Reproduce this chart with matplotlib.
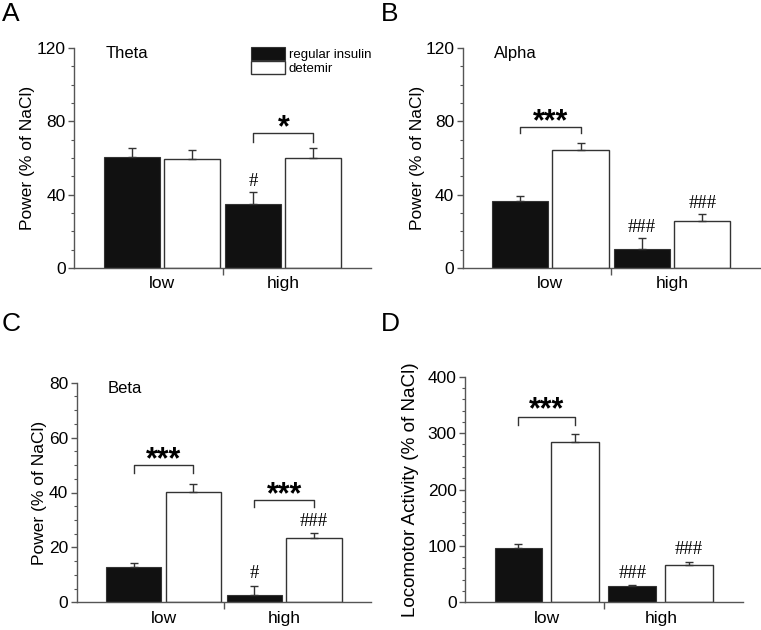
import matplotlib
matplotlib.use("Agg")
import matplotlib.pyplot as plt
from matplotlib.patches import Patch
from matplotlib.ticker import MultipleLocator
import numpy as np

plt.rcParams['font.family'] = ['Liberation Sans', 'DejaVu Sans']

groups = ["low", "high"]
series = ["regular insulin", "detemir"]

# Panel A: Theta
theta_insulin = [60.7, 34.7]
theta_insulin_err = [5.0, 6.9]
theta_detemir = [59.3, 60.2]
theta_detemir_err = [5.1, 5.1]

# Panel B: Alpha
alpha_insulin = [36.5, 10.6]
alpha_insulin_err = [2.7, 6.0]
alpha_detemir = [64.4, 25.5]
alpha_detemir_err = [4.0, 3.7]

# Panel C: Beta
beta_insulin = [12.7, 2.7]
beta_insulin_err = [1.5, 3.2]
beta_detemir = [40.1, 23.3]
beta_detemir_err = [3.0, 2.1]

# Panel D: Locomotor activity
loco_insulin = [95.7, 29.0]
loco_insulin_err = [7.1, 2.3]
loco_detemir = [283.6, 66.2]
loco_detemir_err = [15.4, 4.7]

fig = plt.figure(figsize=(7.61, 6.30), dpi=100)

W, H = 761.0, 630.0
def axes_px(x0, x1, ytop, ybot):
    return fig.add_axes([x0 / W, 1 - ybot / H, (x1 - x0) / W, (ybot - ytop) / H])

axA = axes_px(74, 371, 48, 268)
axB = axes_px(462.7, 760, 48, 268)
axC = axes_px(76.7, 371, 382.7, 602.3)
axD = axes_px(465, 742.7, 376.7, 602.3)

axis_col = "#555555"
black_fill = "#111111"
STAR_SIZE = 22

def draw_panel(ax, ins, ins_err, det, det_err, ymax, major, minor, ylabel, title,
               label_x, label_size=12.5, width=0.46, offset=0.247):
    x = np.arange(len(groups))
    ax.bar(x - offset, ins, width, color=black_fill, edgecolor="#333333", linewidth=0.8, zorder=2)
    ax.bar(x + offset, det, width, color="white", edgecolor="#333333", linewidth=1.0, zorder=2)
    ax.errorbar(x - offset, ins, yerr=[np.zeros(len(ins)), ins_err], fmt="none",
                ecolor="#333333", elinewidth=1.0, capsize=3, capthick=1.0, zorder=3)
    ax.errorbar(x + offset, det, yerr=[np.zeros(len(det)), det_err], fmt="none",
                ecolor="#333333", elinewidth=1.0, capsize=3, capthick=1.0, zorder=3)
    ax.set_xlim(-0.72, 1.72)
    ax.set_ylim(0, ymax)
    ax.yaxis.set_major_locator(MultipleLocator(major))
    ax.yaxis.set_minor_locator(MultipleLocator(minor))
    for s in ["top", "right"]:
        ax.spines[s].set_visible(False)
    for s in ["left", "bottom"]:
        ax.spines[s].set_color(axis_col)
        ax.spines[s].set_linewidth(1.0)
    ax.tick_params(axis="y", which="major", direction="out", length=4, width=1,
                   color=axis_col, labelsize=12.5, pad=2)
    ax.tick_params(axis="y", which="minor", direction="out", length=2.5, width=0.8,
                   color=axis_col)
    ax.set_xticks([0.5])
    ax.set_xticklabels([""])
    ax.set_xticks(x, minor=True)
    ax.set_xticklabels(groups, minor=True)
    ax.tick_params(axis="x", which="major", direction="out", length=5, width=1, color=axis_col)
    ax.tick_params(axis="x", which="minor", length=0, labelsize=12.5, pad=6)
    ax.set_ylabel(ylabel, fontsize=label_size, va="center")
    ax.yaxis.set_label_coords(label_x, 0.5)
    if title:
        ax.text(0.105, 1.01, title, transform=ax.transAxes, fontsize=12, va="top", ha="left")
    return x

def bracket(ax, x0, x1, y, drop, star_bottom, label="***"):
    ax.plot([x0, x0, x1, x1], [y - drop, y, y, y - drop], color="#333333", lw=1.0, zorder=4)
    ax.annotate(label, xy=((x0 + x1) / 2, star_bottom), xytext=(0, -0.22 * STAR_SIZE),
                textcoords="offset points", ha="center", va="baseline",
                fontsize=STAR_SIZE, fontweight="bold")

def hashmark(ax, xpos, y, label):
    ax.text(xpos, y, label, ha="center", va="baseline", fontsize=13.5,
            family=["Liberation Serif", "DejaVu Serif"])

# A
draw_panel(axA, theta_insulin, theta_insulin_err, theta_detemir, theta_detemir_err,
           120, 40, 10, "Power (% of NaCl)", "Theta", -0.157)
bracket(axA, 1 - 0.247, 1 + 0.247, 73.5, 4.5, 75.8, label="*")
hashmark(axA, 1 - 0.247, 44.7, "#")
handles = [Patch(facecolor=black_fill, edgecolor="#333333", linewidth=0.8),
           Patch(facecolor="white", edgecolor="#333333", linewidth=1.0)]
axA.legend(handles, series, loc="upper left", bbox_to_anchor=(0.596, 1.005),
           frameon=False, fontsize=9.5, handlelength=2.6, handleheight=1.15,
           handletextpad=0.25, labelspacing=0.02, borderpad=0, borderaxespad=0)

# B
draw_panel(axB, alpha_insulin, alpha_insulin_err, alpha_detemir, alpha_detemir_err,
           120, 40, 10, "Power (% of NaCl)", "Alpha", -0.152)
bracket(axB, -0.247, 0.247, 77.1, 3.6, 78.9)
hashmark(axB, 1 - 0.247, 19.8, "###")
hashmark(axB, 1 + 0.247, 32.6, "###")

# C
draw_panel(axC, beta_insulin, beta_insulin_err, beta_detemir, beta_detemir_err,
           80, 20, 5, "Power (% of NaCl)", "Beta", -0.126)
bracket(axC, -0.247, 0.247, 50.0, 3.0, 51.2)
bracket(axC, 1 - 0.247, 1 + 0.247, 37.3, 2.7, 38.5)
hashmark(axC, 1 - 0.247, 8.7, "#")
hashmark(axC, 1 + 0.247, 27.8, "###")

# D
draw_panel(axD, loco_insulin, loco_insulin_err, loco_detemir, loco_detemir_err,
           400, 100, 20, "Locomotor Activity (% of NaCl)", None, -0.198,
           label_size=13.6, width=0.42, offset=0.25)
bracket(axD, -0.25, 0.25, 328, 14, 337.4)
hashmark(axD, 1 - 0.25, 43.6, "###")
hashmark(axD, 1 + 0.25, 85.1, "###")

# Panel letters
for lab, (px, py) in zip("ABCD", [(2, 2), (381, 2), (2, 312), (381, 312)]):
    fig.text(px / W, 1 - py / H, lab, fontsize=19, va="top", ha="left")

fig.savefig("out.png", dpi=100)
